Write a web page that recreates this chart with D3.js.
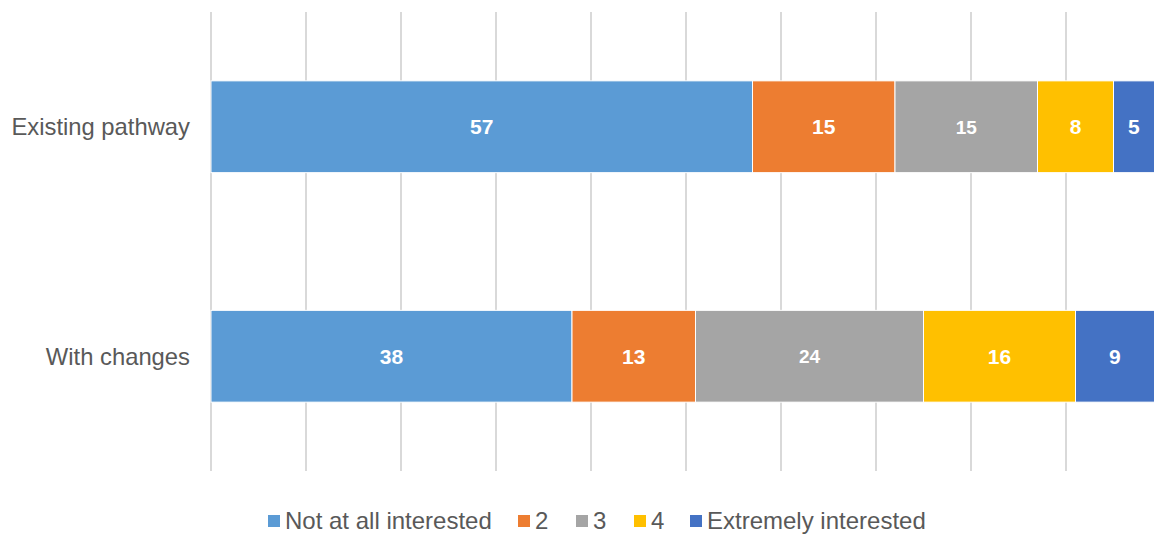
<!DOCTYPE html>
<html><head><meta charset="utf-8">
<script src="https://cdn.jsdelivr.net/npm/d3@7"></script>
<style>body{margin:0;background:#fff;}svg{display:block;}</style>
</head><body>
<svg id="chart" width="1154" height="535"></svg>
<script>
const categories = ["Existing pathway", "With changes"];
const seriesNames = ["Not at all interested", "2", "3", "4", "Extremely interested"];
const notInterested = [57, 38];
const two = [15, 13];
const three = [15, 24];
const four = [8, 16];
const extremely = [5, 9];
const colors = ["#5B9BD5", "#ED7D31", "#A5A5A5", "#FFC000", "#4472C4"];
const xTicks = [0,10,20,30,40,50,60,70,80,90,100];

const svg = d3.select("#chart");
const series = [notInterested, two, three, four, extremely];
const rows = categories.map((c,i)=>{ const o={cat:c}; seriesNames.forEach((s,j)=>o[s]=series[j][i]); return o; });
const stacked = d3.stack().keys(seriesNames)(rows);

const x = d3.scaleLinear().domain([0,100]).range([211,1161]);
const y = d3.scaleBand().domain(categories).range([12,471]).paddingInner(0.6).paddingOuter(0.3);

svg.append("g").selectAll("line").data(xTicks).join("line")
  .attr("x1",d=>x(d)).attr("x2",d=>x(d)).attr("y1",12).attr("y2",471)
  .attr("stroke","#D9D9D9").attr("stroke-width",2);

const g = svg.append("g");
stacked.forEach((s,j)=>{
  g.selectAll(null).data(s).join("rect")
    .attr("x",d=>x(d[0])).attr("width",d=>x(d[1])-x(d[0]))
    .attr("y",d=>y(d.data.cat)).attr("height",y.bandwidth())
    .attr("fill",colors[j]).attr("stroke","#fff").attr("stroke-width",1);
  g.selectAll(null).data(s).join("text")
    .attr("x",d=>(x(d[0])+Math.min(x(d[1]),1154))/2)
    .attr("y",d=>y(d.data.cat)+y.bandwidth()/2)
    .attr("dy","0.36em").attr("text-anchor","middle")
    .attr("fill","#fff").attr("font-family","'Liberation Sans', Arial, sans-serif")
    .attr("font-weight","bold").attr("font-size", j===2 ? 19 : 21)
    .text(d=>d[1]-d[0]);
});

svg.append("g").selectAll("text").data(categories).join("text")
  .attr("x",190).attr("y",d=>y(d)+y.bandwidth()/2).attr("dy","0.35em")
  .attr("text-anchor","end").attr("fill","#595959")
  .attr("font-family","'Liberation Sans', Arial, sans-serif").attr("font-size",23.8)
  .text(d=>d);

const legendX = [268, 518, 576, 634, 690];
const lg = svg.append("g");
seriesNames.forEach((s,j)=>{
  lg.append("rect").attr("x",legendX[j]).attr("y",515).attr("width",12).attr("height",12).attr("fill",colors[j]);
  lg.append("text").attr("x",legendX[j]+17).attr("y",521).attr("dy","0.35em")
    .attr("fill","#595959").attr("font-family","'Liberation Sans', Arial, sans-serif").attr("font-size",24)
    .text(s);
});
</script>
</body></html>
